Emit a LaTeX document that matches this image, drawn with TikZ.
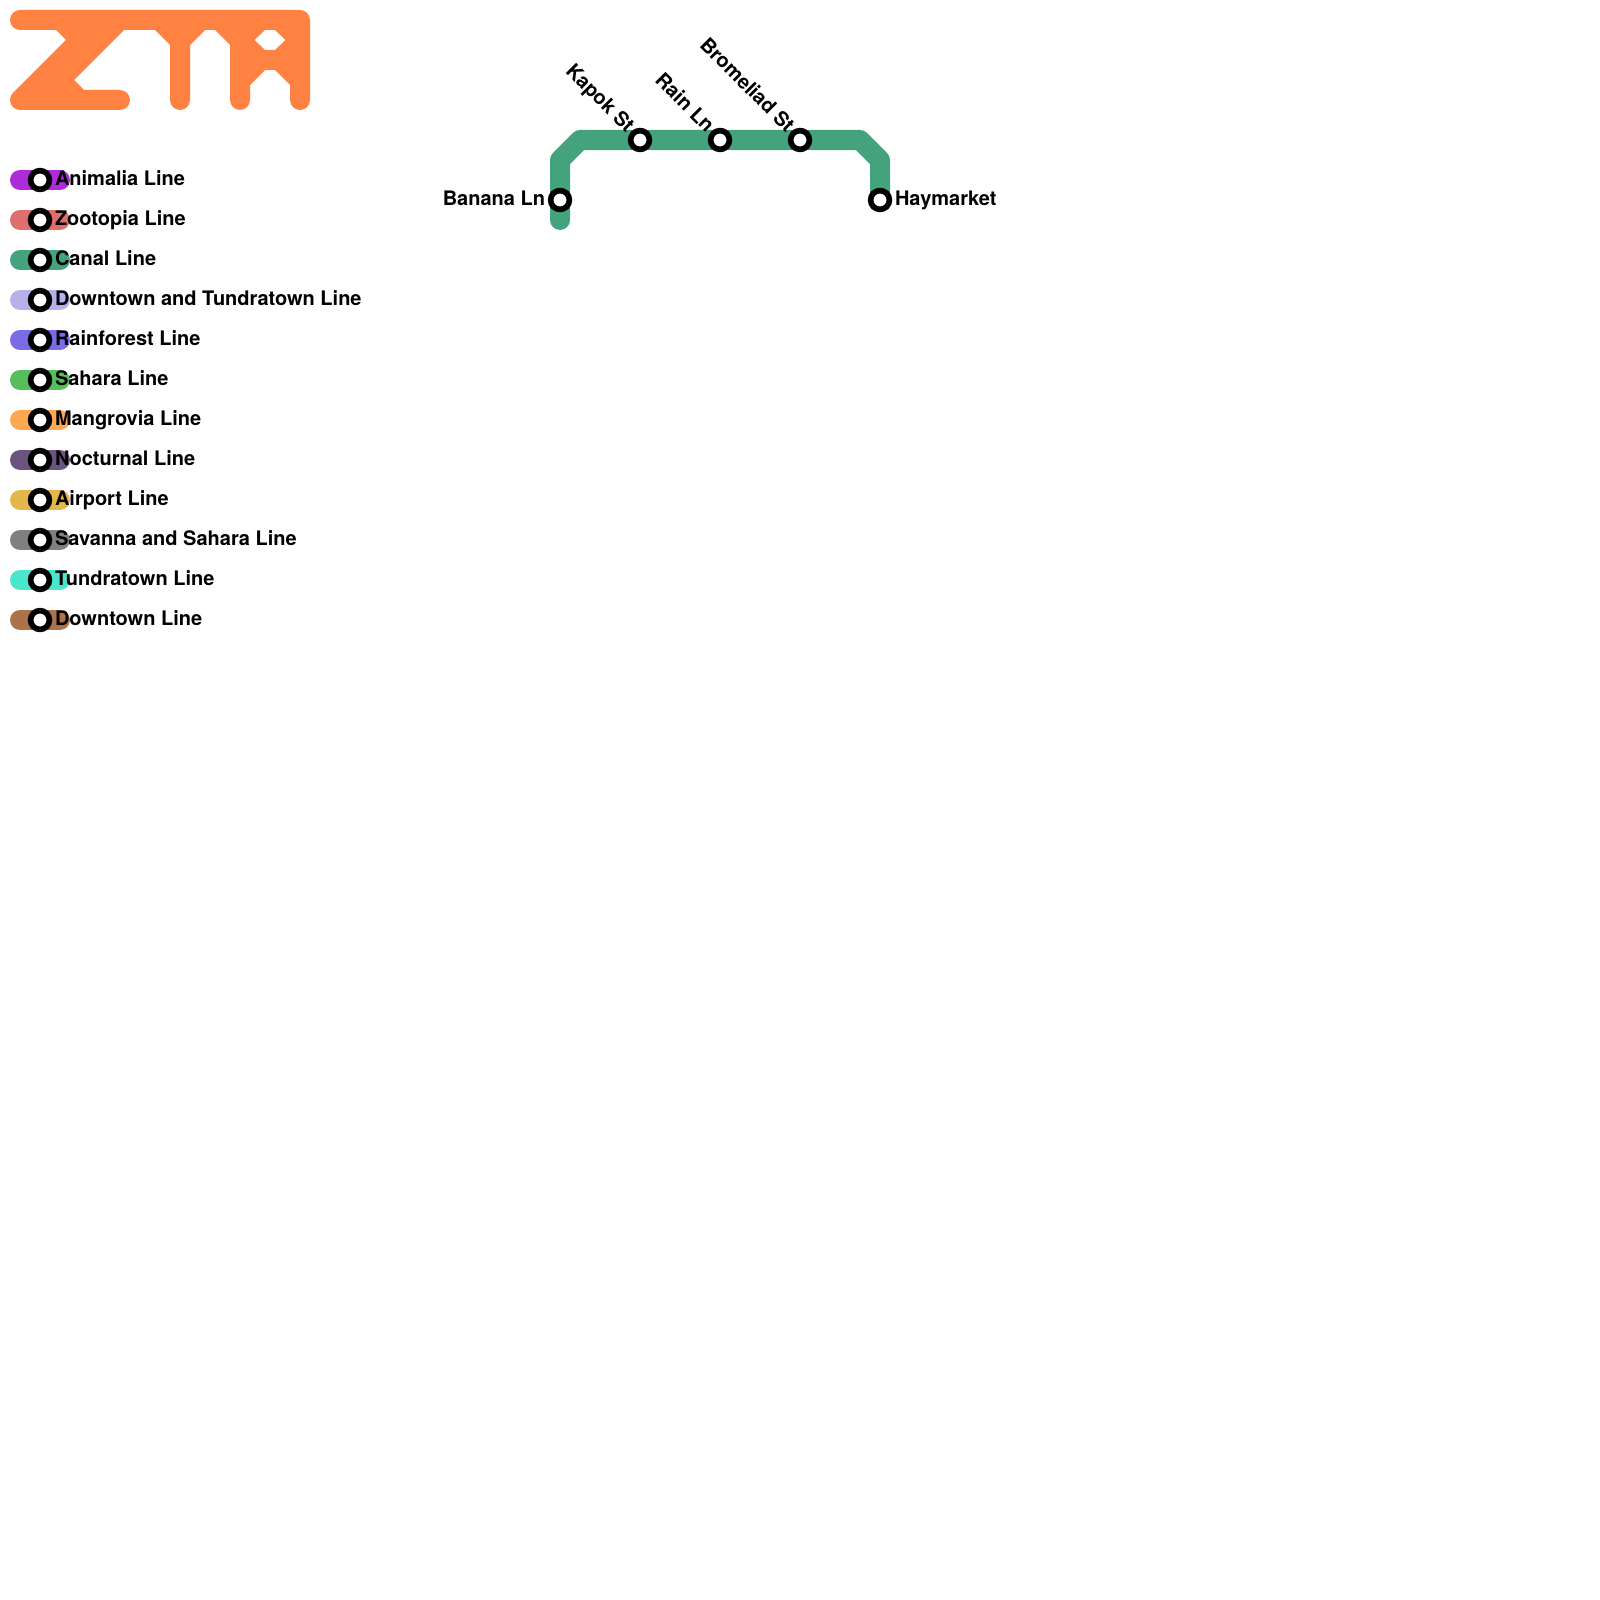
\documentclass[tikz,border=0pt]{standalone}
\usepackage{fontspec}
\setmainfont{TeX Gyre Heros}
\definecolor{logoc}{HTML}{FF8243}
\definecolor{cAni}{HTML}{AD2BD8}
\definecolor{cZoo}{HTML}{DD6F6E}
\definecolor{cCan}{HTML}{44A27C}
\definecolor{cDT}{HTML}{B6B1EA}
\definecolor{cRai}{HTML}{7A6CE6}
\definecolor{cSah}{HTML}{58BE5B}
\definecolor{cMan}{HTML}{FFA852}
\definecolor{cNoc}{HTML}{6B5380}
\definecolor{cAir}{HTML}{E3B74B}
\definecolor{cSav}{HTML}{808080}
\definecolor{cTun}{HTML}{4BE5CB}
\definecolor{cDow}{HTML}{AB7349}
\tikzset{
  route/.style={line width=20pt,line cap=round,line join=round},
  stationring/.style={circle,draw=black,fill=white,line width=5.6pt,minimum size=18.8pt,inner sep=0pt,outer sep=0pt},
  lbl/.style={font=\fontsize{20}{24}\selectfont\bfseries,text=black,inner sep=0pt,outer sep=0pt},
}
\newcommand{\legendrow}[3]{%
  \coordinate (a#1) at (20,#2);
  \coordinate (b#1) at (60,#2);
  \draw[route,draw=#3] (a#1) -- (b#1);
  \node[stationring] (s#1) at (40,#2) {};
}
\begin{document}
\begin{tikzpicture}[x=1pt,y=-1pt]
\useasboundingbox (0,0) rectangle (1600,1600);
% logo
\fill[logoc,even odd rule]
  (20,30) arc[start angle=270,end angle=90,radius=10pt]
  -- (300,10) arc[start angle=90,end angle=0,radius=10pt]
  -- (310,100) arc[start angle=0,end angle=-180,radius=10pt]
  -- (290,85) -- (275,70) -- (265,70) -- (250,85) -- (250,100)
  arc[start angle=0,end angle=-180,radius=10pt]
  -- (230,45) -- (215,30) -- (205,30) -- (190,45) -- (190,100)
  arc[start angle=0,end angle=-180,radius=10pt]
  -- (170,45) -- (155,30) -- (124,30) -- (74,80) -- (84,90) -- (120,90)
  arc[start angle=90,end angle=-90,radius=10pt]
  -- (20,110) arc[start angle=270,end angle=135,radius=10pt]
  -- (66,40) -- (56,30) -- cycle
  (265,30) -- (275,30) -- (285.5,40) -- (275,50) -- (265,50) -- (254.5,40) -- cycle;
% legend
\legendrow{1}{180}{cAni}
\legendrow{2}{220}{cZoo}
\legendrow{3}{260}{cCan}
\legendrow{4}{300}{cDT}
\legendrow{5}{340}{cRai}
\legendrow{6}{380}{cSah}
\legendrow{7}{420}{cMan}
\legendrow{8}{460}{cNoc}
\legendrow{9}{500}{cAir}
\legendrow{10}{540}{cSav}
\legendrow{11}{580}{cTun}
\legendrow{12}{620}{cDow}
\node[lbl,anchor=base west] (t1) at (55,185) {Animalia Line};
\node[lbl,anchor=base west] (t2) at (55,225) {Zootopia Line};
\node[lbl,anchor=base west] (t3) at (55,265) {Canal Line};
\node[lbl,anchor=base west] (t4) at (55,305) {Downtown and Tundratown Line};
\node[lbl,anchor=base west] (t5) at (55,345) {Rainforest Line};
\node[lbl,anchor=base west] (t6) at (55,385) {Sahara Line};
\node[lbl,anchor=base west] (t7) at (55,425) {Mangrovia Line};
\node[lbl,anchor=base west] (t8) at (55,465) {Nocturnal Line};
\node[lbl,anchor=base west] (t9) at (55,505) {Airport Line};
\node[lbl,anchor=base west] (t10) at (55,545) {Savanna and Sahara Line};
\node[lbl,anchor=base west] (t11) at (55,585) {Tundratown Line};
\node[lbl,anchor=base west] (t12) at (55,625) {Downtown Line};
% route
\coordinate (tail) at (560,220);
\coordinate (c1) at (560,160);
\coordinate (c2) at (580,140);
\coordinate (c3) at (860,140);
\coordinate (c4) at (880,160);
\coordinate (end) at (880,200);
\draw[route,draw=cCan] (tail) -- (c1) -- (c2) -- (c3) -- (c4) -- (end);
\node[stationring] (banana) at (560,200) {};
\node[stationring] (kapok) at (640,140) {};
\node[stationring] (rain) at (720,140) {};
\node[stationring] (brom) at (800,140) {};
\node[stationring] (hay) at (880,200) {};
\node[lbl,anchor=base east] (tb) at (545,205) {Banana Ln};
\node[lbl,anchor=base west] (th) at (895,205) {Haymarket};
\node[lbl,anchor=base east,rotate=-45] (tk) at (626,133.5) {Kapok St};
\node[lbl,anchor=base east,rotate=-45] (tr) at (706,133.5) {Rain Ln};
\node[lbl,anchor=base east,rotate=-45] (tm) at (786,133.5) {Bromeliad St};
\end{tikzpicture}
\end{document}
